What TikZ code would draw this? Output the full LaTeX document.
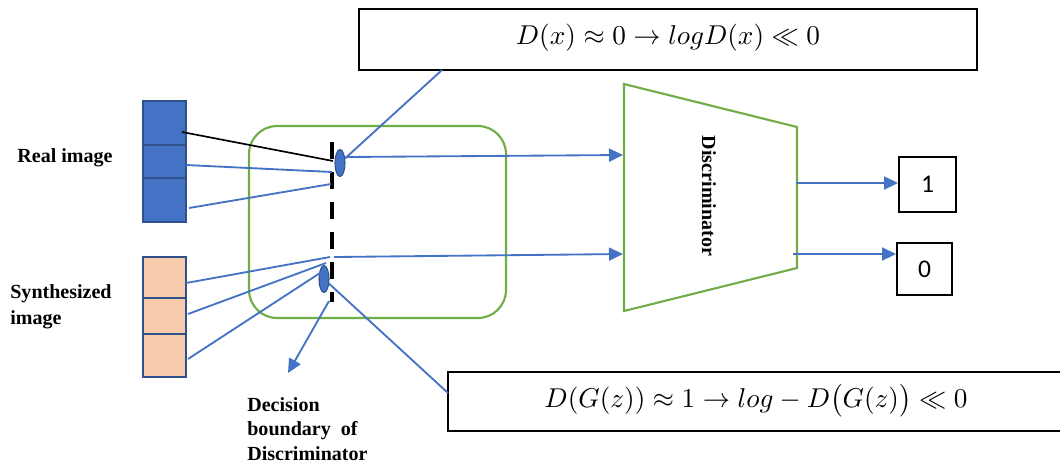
\documentclass[tikz,border=0pt]{standalone}
\usepackage{fontspec}
\newfontfamily\tnr{Liberation Serif}
\newfontfamily\carl{Carlito}
\usetikzlibrary{arrows.meta,shapes.geometric,calc}
\definecolor{lblue}{HTML}{4472C4}
\definecolor{dblue}{HTML}{2F528F}
\definecolor{lgreen}{HTML}{70AD47}
\definecolor{peach}{HTML}{F8CBAD}
\tikzset{
  blueline/.style={draw=lblue, line width=1.05pt},
  bluearrow/.style={blueline, -{Triangle[length=2.8mm,width=2.6mm]}},
  realcell/.style={draw=dblue, fill=lblue, line width=0.8pt, minimum width=8.6mm, inner sep=0pt},
  syncell/.style={draw=dblue, fill=peach, line width=0.8pt, minimum width=8.6mm, inner sep=0pt},
  dot/.style={ellipse, draw=dblue, fill=lblue, line width=0.6pt, minimum width=2mm, minimum height=5.4mm, inner sep=0pt},
  eqbox/.style={draw=black, line width=1.2pt, inner sep=0pt, fill=white},
  outbox/.style={draw=black, line width=1.1pt, inner sep=0pt, font=\carl\fontsize{14.5}{16}\selectfont},
  lbl/.style={font=\tnr\bfseries\fontsize{11.4}{14.5}\selectfont, inner sep=0pt, align=left},
  eqtext/.style={inner sep=0pt, scale=1.55}
}
\begin{document}
\begin{tikzpicture}[x=0.02cm,y=-0.02cm]
\useasboundingbox (0,0) rectangle (1060,468);
% image stacks
\node[realcell, minimum height=8.8mm] (r1) at (164.5,123) {};
\node[realcell, minimum height=6.6mm] (r2) at (164.5,161.5) {};
\node[realcell, minimum height=8.8mm] (r3) at (164.5,200) {};
\node[syncell, minimum height=8.2mm] (s1) at (164.5,277.5) {};
\node[syncell, minimum height=7.2mm] (s2) at (164.5,316) {};
\node[syncell, minimum height=8.6mm] (s3) at (164.5,355.5) {};
% labels
\node[lbl] (lreal) at (65,158) {Real image};
\node[lbl, anchor=north west, font=\tnr\bfseries\fontsize{11.4}{14.8}\selectfont] (lsyn) at (10,284) {Synthesized\\image};
\node[lbl, anchor=north west, font=\tnr\bfseries\fontsize{11.4}{13.9}\selectfont] (ldec) at (247,397) {Decision\\boundary~~of\\Discriminator};
% green region
\node[draw=lgreen, line width=1.2pt, rounded corners=5.6mm, minimum width=51.4mm, minimum height=38.4mm, inner sep=0pt] (region) at (377.5,222) {};
% decision boundary
\coordinate (db1) at (332,142);
\coordinate (db2) at (332,302);
\draw[black, line width=2.4pt, dash pattern=on 3.4mm off 2.6mm] (db1) -- (db2);
% ellipses
\node[dot] (e1) at (340,163) {};
\node[dot] (e2) at (324,279) {};
% trapezoid
\coordinate (t1) at (624,84);
\coordinate (t2) at (797,127);
\coordinate (t3) at (797,268);
\coordinate (t4) at (624,311);
\draw[lgreen, line width=1.2pt] (t1) -- (t2) -- (t3) -- (t4) -- cycle;
\node[lbl, rotate=-90] (disc) at (709,196) {Discriminator};
% output boxes
\node[outbox, minimum width=11.4mm, minimum height=11mm] (b1) at (927.5,184.5) {1};
\node[outbox, minimum width=11mm, minimum height=10.4mm] (b0) at (924.5,269) {0};
% equation boxes
\node[eqbox, minimum width=123.6mm, minimum height=12.2mm] (eqtop) at (668,39.5) {};
\node[eqtext] (eqt) at (668,38) {$D(x)\approx 0\rightarrow logD(x)\ll 0$};
\node[eqbox, minimum width=123.2mm, minimum height=11.8mm] (eqbot) at (756,401.5) {};
\node[eqtext] (eqb) at (756,401) {$D(G(z))\approx 1\rightarrow log-D\big(G(z)\big)\ll 0$};
% connector endpoints
\coordinate (ra) at (182,132);
\coordinate (rae) at (333,161);
\coordinate (rb) at (186,165);
\coordinate (rbe) at (332,172);
\coordinate (rc) at (189,208);
\coordinate (rce) at (331,184);
\coordinate (sa) at (186,283);
\coordinate (sae) at (330,257);
\coordinate (sb) at (188,314);
\coordinate (sbe) at (326,263);
\coordinate (sc) at (188,359);
\coordinate (sce) at (320,273);
\coordinate (h2s) at (334,257);
\coordinate (in1) at (623,155);
\coordinate (in2) at (623,254);
\coordinate (o1) at (796,183);
\coordinate (o2) at (793,254);
\coordinate (topend) at (442,70);
\coordinate (botend) at (448,393);
\coordinate (decs) at (329,301);
\coordinate (dece) at (288,373);
% connectors
\draw[black, line width=0.95pt] (ra) -- (rae);
\draw[blueline] (rb) -- (rbe);
\draw[blueline] (rc) -- (rce);
\draw[blueline] (sa) -- (sae);
\draw[blueline] (sb) -- (sbe);
\draw[blueline] (sc) -- (sce);
\draw[blueline] (e1) -- (topend);
\draw[bluearrow] (e1.east |- 0,157) -- (in1);
\draw[bluearrow] (h2s) -- (in2);
\draw[blueline] (e2) -- (botend);
\draw[bluearrow] (decs) -- (dece);
\draw[bluearrow] (o1) -- (b1.west |- o1);
\draw[bluearrow] (o2) -- (b0.west |- o2);
\end{tikzpicture}
\end{document}
